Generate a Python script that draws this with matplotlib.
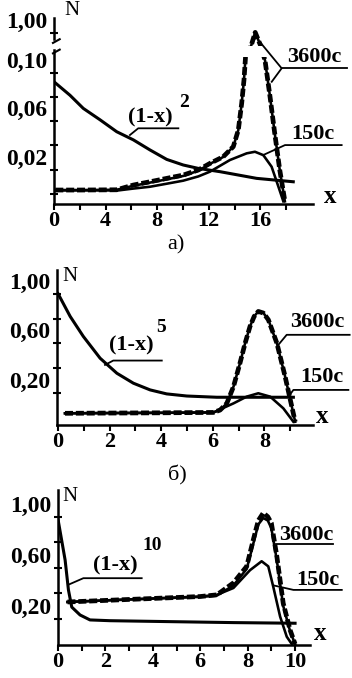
import numpy as np
import matplotlib
matplotlib.use("Agg")
import matplotlib.pyplot as plt
from matplotlib.patches import Rectangle

plt.rcParams["font.family"] = ["Liberation Serif", "DejaVu Serif"]
plt.rcParams["font.weight"] = "bold"

# ---- panel a) ----
a_pow_x = [0.0, 1.24, 2.27, 3.57, 4.86, 6.15, 7.44, 8.74, 10.02, 11.19, 12.87, 15.71, 18.55]
a_pow_y = [0.0924, 0.0813, 0.0705, 0.0611, 0.0513, 0.0446, 0.0363, 0.0285, 0.0239, 0.0211, 0.0184, 0.0129, 0.0101]
a_3600_x = [0.1, 2.0, 4.86, 6.15, 7.44, 8.74, 10.02, 11.19, 12.09, 13.12, 13.9, 14.29, 14.55, 14.73, 14.85,
            15.3, 15.6, 16.0, 16.36, 16.75, 17.1, 17.5, 17.9]
a_3600_y = [0.0033, 0.0033, 0.0035, 0.0074, 0.0101, 0.0129, 0.0156, 0.0198, 0.0252, 0.0307, 0.039, 0.0527,
            0.0746, 0.094, 0.113, 0.50, 1.03, 0.50, 0.110, 0.080, 0.051, 0.020, -0.006]
a_3600s_y = [0.0033, 0.0033, 0.0035, 0.0068, 0.0094, 0.0121, 0.0149, 0.0192, 0.0248, 0.0305, 0.039, 0.0527,
             0.0746, 0.094, 0.113, 0.50, 1.03, 0.50, 0.110, 0.080, 0.051, 0.020, -0.006]
a_150_x = [0.1, 2.0, 5.0, 6.15, 7.44, 8.74, 10.02, 11.19, 12.09, 13.64, 14.94, 15.58, 16.23, 16.87, 17.4, 17.78]
a_150_y = [0.003, 0.003, 0.003, 0.0045, 0.006, 0.0085, 0.011, 0.0145, 0.0184, 0.028, 0.0335, 0.0348, 0.032,
           0.0225, 0.006, -0.006]

# ---- panel б) ----
b_pow_x = [0.0, 0.47, 0.98, 1.63, 2.28, 2.92, 3.57, 4.21, 4.99, 6.15, 8.09, 9.12]
b_pow_y = [1.0, 0.817, 0.656, 0.481, 0.36, 0.28, 0.226, 0.194, 0.177, 0.167, 0.167, 0.167]
b_3600_x = [0.27, 2.0, 4.0, 6.02, 6.28, 6.54, 6.8, 7.05, 7.25, 7.44, 7.6, 7.76, 7.96, 8.15, 8.48, 8.8, 9.06, 9.19]
b_3600_y = [0.038, 0.040, 0.042, 0.045, 0.064, 0.118, 0.253, 0.441, 0.602, 0.737, 0.817, 0.857, 0.844, 0.79,
            0.602, 0.333, 0.091, -0.03]
b_150_x = [0.27, 2.0, 4.0, 6.02, 6.8, 7.31, 7.76, 8.22, 8.73, 9.12]
b_150_y = [0.038, 0.040, 0.042, 0.045, 0.118, 0.172, 0.199, 0.172, 0.078, -0.03]

# ---- panel в) ----
c_pow_x = [0.0, 0.3, 0.44, 0.58, 0.93, 1.35, 2.19, 4.59, 7.4, 10.0]
c_pow_y = [0.98, 0.66, 0.425, 0.29, 0.228, 0.189, 0.183, 0.176, 0.168, 0.163]
c_3600_x = [0.4, 3.0, 6.0, 6.7, 7.4, 7.96, 8.24, 8.45, 8.66, 8.85, 9.0, 9.23, 9.5, 9.79, 10.0]
c_3600_y = [0.33, 0.35, 0.373, 0.386, 0.48, 0.61, 0.82, 0.97, 1.03, 1.0, 0.95, 0.69, 0.32, 0.11, 0.0]
c_3600s_y = [0.33, 0.35, 0.37, 0.38, 0.46, 0.59, 0.79, 0.94, 0.99, 0.97, 0.91, 0.66, 0.30, 0.10, 0.0]
c_150_x = [0.4, 3.0, 6.0, 6.7, 7.4, 8.1, 8.59, 8.87, 9.08, 9.37, 9.65, 9.86]
c_150_y = [0.33, 0.35, 0.373, 0.386, 0.44, 0.58, 0.65, 0.61, 0.45, 0.215, 0.057, 0.0]

XFS = 16
YFS = 17
LBLFS = 16
SUPFS = 14
LW = 2.2
DASH = (0, (1.7, 0.6))


def style_axes(ax, xmajor, xminor, ymajor, ylabels, yminor):
    ax.spines["top"].set_visible(False)
    ax.spines["right"].set_visible(False)
    ax.spines["left"].set_linewidth(1.8)
    ax.spines["bottom"].set_linewidth(1.8)
    ax.set_xticks(xmajor)
    ax.set_xticklabels([str(v) for v in xmajor])
    ax.set_xticks(xminor, minor=True)
    ax.set_yticks(ymajor)
    ax.set_yticklabels(ylabels)
    ax.set_yticks(yminor, minor=True)
    ax.tick_params(axis="x", which="both", direction="out", length=4, width=1.5,
                   pad=1, labelsize=XFS)
    ax.tick_params(axis="y", which="both", direction="inout", length=6, width=1.5,
                   pad=2, labelsize=YFS)
    for t in ax.get_yticklabels():
        t.set_va("bottom")


def leader(ax, xs, ys):
    ax.plot(xs, ys, color="black", lw=1.3, clip_on=False, zorder=5)


def curves(ax, pow_x, pow_y, c150_x, c150_y, c3600_x, c3600s_y, c3600_y):
    ax.plot(pow_x, pow_y, color="black", lw=LW, zorder=2)
    ax.plot(c150_x, c150_y, color="black", lw=LW * 0.85, zorder=2)
    ax.plot(c3600_x, c3600s_y, color="black", lw=LW * 0.85, zorder=2)
    ax.plot(c3600_x, c3600_y, color="black", lw=3.4, ls=DASH, zorder=2)


fig = plt.figure(figsize=(3.52, 6.78), dpi=100)

# ---------- a) ----------
ax = fig.add_axes([54 / 352, 1 - 204 / 678, 259 / 352, 186 / 678])
B, K = 0.115, 0.01977


def fwd(v):
    v = np.asarray(v, float)
    return np.where(v <= B, v, B + (v - B) * K)


def inv(t):
    t = np.asarray(t, float)
    return np.where(t <= B, t, B + (t - B) / K)


ax.set_yscale("function", functions=(fwd, inv))
curves(ax, a_pow_x, a_pow_y, a_150_x, a_150_y, a_3600_x, a_3600s_y, a_3600_y)
ax.set_xlim(0, 20.08)
ax.set_ylim(-0.0082, 1.627)
style_axes(ax, [0, 4, 8, 12, 16], [2, 6, 10, 14, 18],
           [0.02, 0.06, 0.10, 1.00], ["0,02", "0,06", "0,10", "1,00"], [0.0, 0.04, 0.08])
ax.spines["left"].set_visible(False)
# broken y axis
ax.plot([0, 0], [0, 0.828], transform=ax.transAxes, color="black", lw=1.8, clip_on=False)
ax.plot([0, 0], [0.887, 1.0], transform=ax.transAxes, color="black", lw=1.8, clip_on=False)
ax.plot([-0.004, 0.022], [0.81, 0.83], transform=ax.transAxes, color="black", lw=1.5, clip_on=False)
ax.plot([-0.004, 0.022], [0.866, 0.886], transform=ax.transAxes, color="black", lw=1.5, clip_on=False)
ax.add_patch(Rectangle((0.73, 0.79), 0.1, 0.058, transform=ax.transAxes,
                       facecolor="white", edgecolor="none", zorder=3))
leader(ax, [5.89, 6.53, 9.64], [0.0486, 0.0541, 0.0541])
ax.text(7.5, 0.0634, "(1-x)", fontsize=LBLFS, ha="center", va="center")
ax.text(10.1, 0.0755, "2", fontsize=SUPFS, ha="center", va="center")
leader(ax, [15.97, 17.65, 16.88], [0.626, 0.1035, 0.0924])
leader(ax, [17.65, 22.7], [0.1035, 0.1035])
ax.text(20.16, 0.113, "3600c", fontsize=LBLFS, ha="center", va="center")
leader(ax, [16.22, 17.91, 22.3], [0.0321, 0.0403, 0.0403])
ax.text(20.04, 0.0494, "150c", fontsize=LBLFS, ha="center", va="center")
ax.text(0.07, 1.038, "N", transform=ax.transAxes, fontsize=15, fontweight="normal",
        ha="center", va="center")
ax.text(1.066, 0.04, "x", transform=ax.transAxes, fontsize=18, ha="center", va="center")
fig.text(176 / 352, 1 - 245 / 678, "а)", fontsize=16, fontweight="normal", ha="center", va="center")

# ---------- б) ----------
ax = fig.add_axes([57 / 352, 1 - 425 / 678, 256 / 352, 155 / 678])
curves(ax, b_pow_x, b_pow_y, b_150_x, b_150_y, b_3600_x, b_3600_y, b_3600_y)
ax.set_xlim(-0.04, 9.88)
ax.set_ylim(-0.056, 1.19)
style_axes(ax, [0, 2, 4, 6, 8], [1, 3, 5, 7, 9],
           [0.2, 0.6, 1.0], ["0,20", "0,60", "1,00"], [0.4, 0.8])
leader(ax, [1.82, 2.14, 4.02], [0.427, 0.462, 0.462])
ax.text(2.85, 0.585, "(1-x)", fontsize=LBLFS, ha="center", va="center")
ax.text(3.98, 0.725, "5", fontsize=SUPFS, ha="center", va="center")
leader(ax, [8.54, 8.86, 11.3], [0.589, 0.669, 0.669])
ax.text(10.06, 0.77, "3600c", fontsize=LBLFS, ha="center", va="center")
leader(ax, [8.93, 9.12, 11.25], [0.172, 0.226, 0.226])
ax.text(10.23, 0.327, "150c", fontsize=LBLFS, ha="center", va="center")
ax.text(0.05, 0.955, "N", transform=ax.transAxes, fontsize=15, fontweight="normal",
        ha="center", va="center")
ax.text(1.034, 0.054, "x", transform=ax.transAxes, fontsize=18, ha="center", va="center")
fig.text(177 / 352, 1 - 475 / 678, "б)", fontsize=16, fontweight="normal", ha="center", va="center")

# ---------- в) ----------
ax = fig.add_axes([58 / 352, 1 - 645 / 678, 252 / 352, 155 / 678])
curves(ax, c_pow_x, c_pow_y, c_150_x, c_150_y, c_3600_x, c_3600s_y, c_3600_y)
ax.set_xlim(0, 10.63)
ax.set_ylim(-0.008, 1.21)
style_axes(ax, [0, 2, 4, 6, 8, 10], [1, 3, 5, 7, 9],
           [0.2, 0.6, 1.0], ["0,20", "0,60", "1,00"], [0.4, 0.8])
leader(ax, [0.43, 1.07, 3.53], [0.465, 0.517, 0.517])
ax.text(2.42, 0.614, "(1-x)", fontsize=LBLFS, ha="center", va="center")
ax.text(3.98, 0.77, "10", fontsize=SUPFS, ha="center", va="center")
leader(ax, [9.2, 11.6], [0.787, 0.787])
ax.text(10.46, 0.858, "3600c", fontsize=LBLFS, ha="center", va="center")
leader(ax, [9.1, 9.93, 11.97], [0.46, 0.425, 0.425])
ax.text(10.97, 0.50, "150c", fontsize=LBLFS, ha="center", va="center")
ax.text(0.048, 0.957, "N", transform=ax.transAxes, fontsize=15, fontweight="normal",
        ha="center", va="center")
ax.text(1.04, 0.075, "x", transform=ax.transAxes, fontsize=18, ha="center", va="center")

fig.savefig("out.png", dpi=100)
